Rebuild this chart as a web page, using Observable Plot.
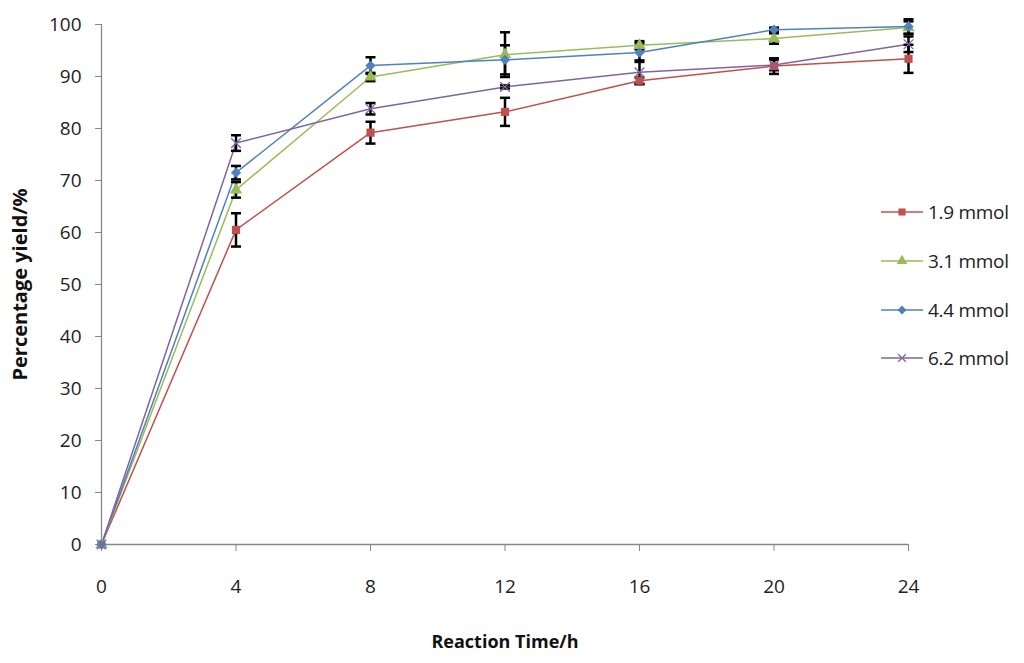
<!DOCTYPE html>
<html>
<head>
<meta charset="utf-8">
<script src="https://cdn.jsdelivr.net/npm/d3@7"></script>
<script src="https://cdn.jsdelivr.net/npm/@observablehq/plot@0.6"></script>
<style>
  html, body { margin: 0; padding: 0; background: #fff; }
  #wrap { position: relative; width: 1024px; height: 663px; font-family: "Open Sans", sans-serif; }
  #legend { position: absolute; left: 880px; top: 0; }
  .item { position: absolute; left: 0; display: flex; align-items: center; white-space: nowrap; font-size: 19px; color: #222; letter-spacing: -0.3px; }
  .item svg { margin-right: 4px; }
</style>
</head>
<body>
<div id="wrap"><div id="legend"></div></div>
<script>
const times = [0, 4, 8, 12, 16, 20, 24];
const seriesNames = ["1.9 mmol", "3.1 mmol", "4.4 mmol", "6.2 mmol"];
const seriesColors = ["#C0504D", "#9BBB59", "#4F81BD", "#8064A2"];
const seriesSymbols = ["square", "triangle", "diamond2", "times"];
const yield19 = [0, 60.5, 79.2, 83.2, 89.2, 92.0, 93.4];
const yield31 = [0, 68.2, 89.9, 94.2, 96.0, 97.3, 99.4];
const yield44 = [0, 71.5, 92.1, 93.2, 94.6, 99.0, 99.6];
const yield62 = [0, 77.2, 83.8, 88.0, 90.8, 92.2, 96.2];
const err19 = [0, 3.2, 2.1, 2.7, 0.6, 1.5, 2.7];
const err31 = [0, 1.5, 0.8, 4.3, 0.8, 1.0, 1.2];
const err44 = [0, 1.3, 1.6, 2.8, 1.8, 0.4, 1.4];
const err62 = [0, 1.5, 1.1, 0.3, 2.3, 1.0, 1.5];
const xTicks = [0, 4, 8, 12, 16, 20, 24];
const yTicks = [0, 10, 20, 30, 40, 50, 60, 70, 80, 90, 100];

const yields = [yield19, yield31, yield44, yield62];
const errs = [err19, err31, err44, err62];
const rows = [];
seriesNames.forEach((s, i) => times.forEach((t, j) => rows.push({series: s, t, y: yields[i][j], e: errs[i][j]})));
const errRows = rows.filter(d => d.e > 0);

const capSymbol = { draw(ctx, size) { const r = Math.sqrt(size / Math.PI); ctx.moveTo(-r, 0); ctx.lineTo(r, 0); } };
const font = '"Open Sans", sans-serif';

const chart = Plot.plot({
  width: 1024,
  height: 663,
  marginLeft: 101,
  marginRight: 116,
  marginTop: 24,
  marginBottom: 119,
  style: { fontFamily: font, fontSize: "19px", color: "#222", background: "#fff" },
  x: { domain: [0, 24] },
  y: { domain: [0, 100] },
  color: { domain: seriesNames, range: seriesColors },
  symbol: { domain: seriesNames, range: seriesSymbols },
  marks: [
    Plot.axisY({ ticks: yTicks, tickSize: 6, tickPadding: 14, stroke: "#888", label: null, fill: "#222" }),
    Plot.axisX({ ticks: xTicks, tickSize: 7, tickPadding: 28, stroke: "#888", label: null, fill: "#222" }),
    Plot.ruleY([0], { stroke: "#888", strokeWidth: 1.3 }),
    Plot.ruleX([0], { stroke: "#888", strokeWidth: 1.3 }),
    Plot.line(rows, { x: "t", y: "y", z: "series", stroke: "series", strokeWidth: 1.5 }),
    Plot.ruleX(errRows, { x: "t", y1: d => d.y - d.e, y2: d => d.y + d.e, stroke: "#000", strokeWidth: 2.5 }),
    Plot.dot(errRows, { x: "t", y: d => d.y - d.e, symbol: capSymbol, r: 5, stroke: "#000", strokeWidth: 2.5 }),
    Plot.dot(errRows, { x: "t", y: d => d.y + d.e, symbol: capSymbol, r: 5, stroke: "#000", strokeWidth: 2.5 }),
    Plot.dot(rows.filter(d => d.series !== "6.2 mmol"), { x: "t", y: "y", symbol: "series", fill: "series", r: 4.6, stroke: "none" }),
    Plot.dot(rows.filter(d => d.series === "6.2 mmol"), { x: "t", y: "y", symbol: "series", stroke: "series", r: 4.5, strokeWidth: 1.3 }),
    Plot.text(["Percentage yield/%"], { frameAnchor: "left", textAnchor: "middle", lineAnchor: "middle", dx: -81, rotate: -90, fontWeight: "bold", fontSize: 20, fill: "#111" }),
    Plot.text(["Reaction Time/h"], { frameAnchor: "bottom", textAnchor: "middle", lineAnchor: "middle", dy: 98, fontWeight: "bold", fontSize: 18, fill: "#111" })
  ]
});
document.getElementById("wrap").prepend(chart);

// legend
const legend = document.getElementById("legend");
const tops = [212, 261, 310, 358];
seriesNames.forEach((s, i) => {
  const div = document.createElement("div");
  div.className = "item";
  div.style.top = (tops[i] - 13) + "px";
  const sym = d3.symbol(
    i === 0 ? d3.symbolSquare : i === 1 ? d3.symbolTriangle : i === 2 ? d3.symbolDiamond2 : d3.symbolTimes,
    i === 3 ? 40 : 50
  )();
  const markerAttr = i === 3 ? `fill="none" stroke="${seriesColors[i]}" stroke-width="1.3"` : `fill="${seriesColors[i]}"`;
  div.innerHTML = `<svg width="44" height="24"><line x1="1" x2="43" y1="12" y2="12" stroke="${seriesColors[i]}" stroke-width="1.5"/><path transform="translate(22,12)" d="${sym}" ${markerAttr}/></svg><span>${s}</span>`;
  legend.appendChild(div);
});
</script>
</body>
</html>
